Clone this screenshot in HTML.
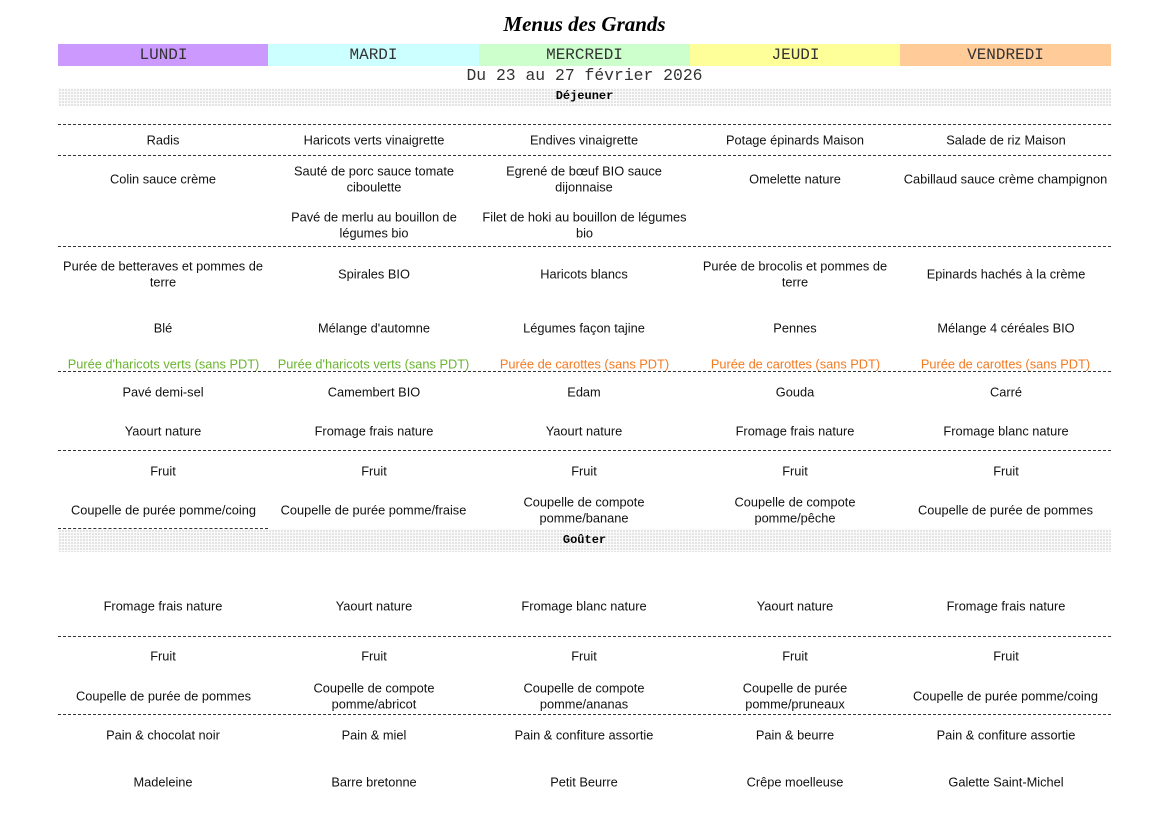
<!DOCTYPE html>
<html><head><meta charset="utf-8"><style>
body{margin:0;width:1169px;height:827px;background:#fff;position:relative;font-family:"Liberation Sans",sans-serif;overflow:hidden}
.c{position:absolute;width:200px;transform:translateY(-50%);text-align:center;font-size:12.8px;line-height:15.5px;color:#111;margin-top:1px}
.c1{left:63px}.c2{left:274px}.c3{left:484px}.c4{left:695px}.c5{left:906px}
.g{color:#6ab42e}.o{color:#f47a20}
.hl{position:absolute;left:58px;width:1053px;border-top:1px dashed #333;height:0}
.band{position:absolute;left:58px;width:1053px;background-color:#e4e4e4;background-image:linear-gradient(#fafafa 1px,transparent 1px),linear-gradient(90deg,#fafafa 1px,transparent 1px);background-size:3px 3px;font-family:"Liberation Mono",monospace;font-weight:bold;font-size:12px;text-align:center}
.day{position:absolute;top:44px;height:22px;line-height:22px;width:211px;text-align:center;font-family:"Liberation Mono",monospace;font-size:16px;color:#333}
</style></head><body>
<div style="position:absolute;top:12px;left:0;width:1169px;text-align:center;font-family:'Liberation Serif',serif;font-style:italic;font-weight:bold;font-size:21px">Menus des Grands</div>
<div class="day" style="left:58px;background:#cc99ff">LUNDI</div>
<div class="day" style="left:268px;background:#ccffff">MARDI</div>
<div class="day" style="left:479px;background:#ccffcc">MERCREDI</div>
<div class="day" style="left:690px;background:#ffff99">JEUDI</div>
<div class="day" style="left:900px;background:#ffcc99;width:211px">VENDREDI</div>
<div style="position:absolute;top:66px;left:0;width:1169px;text-align:center;font-family:'Liberation Mono',monospace;font-size:16.4px;color:#333">Du 23 au 27 février 2026</div>
<div class="band" style="top:88px;height:18px;line-height:16px">Déjeuner</div>
<div class="band" style="top:529px;height:23px;line-height:22px">Goûter</div>

<div class="hl" style="top:124px"></div>
<div class="hl" style="top:155px"></div>
<div class="hl" style="top:246px"></div>
<div class="hl" style="top:371px"></div>
<div class="hl" style="top:450px"></div>
<div class="hl" style="top:528px;width:210px"></div>
<div class="hl" style="top:636px"></div>
<div class="hl" style="top:714px"></div>

<div class="c c1" style="top:139px">Radis</div>
<div class="c c2" style="top:139px">Haricots verts vinaigrette</div>
<div class="c c3" style="top:139px">Endives vinaigrette</div>
<div class="c c4" style="top:139px">Potage épinards Maison</div>
<div class="c c5" style="top:139px">Salade de riz Maison</div>

<div class="c c1" style="top:178px">Colin sauce crème</div>
<div class="c c2" style="top:178px">Sauté de porc sauce tomate ciboulette</div>
<div class="c c3" style="top:178px">Egrené de bœuf BIO sauce dijonnaise</div>
<div class="c c4" style="top:178px">Omelette nature</div>
<div class="c c5" style="top:178px;left:900px;width:211px">Cabillaud sauce crème champignon</div>

<div class="c c2" style="top:224px">Pavé de merlu au bouillon de légumes bio</div>
<div class="c c3" style="top:224px;left:479px;width:211px">Filet de hoki au bouillon de légumes bio</div>

<div class="c c1" style="top:273px">Purée de betteraves et pommes de terre</div>
<div class="c c2" style="top:273px">Spirales BIO</div>
<div class="c c3" style="top:273px">Haricots blancs</div>
<div class="c c4" style="top:273px">Purée de brocolis et pommes de terre</div>
<div class="c c5" style="top:273px">Epinards hachés à la crème</div>

<div class="c c1" style="top:327px">Blé</div>
<div class="c c2" style="top:327px">Mélange d'automne</div>
<div class="c c3" style="top:327px">Légumes façon tajine</div>
<div class="c c4" style="top:327px">Pennes</div>
<div class="c c5" style="top:327px">Mélange 4 céréales BIO</div>

<div class="c c1 g" style="top:363px;left:58px;width:211px">Purée d'haricots verts (sans PDT)</div>
<div class="c c2 g" style="top:363px;left:268px;width:211px">Purée d'haricots verts (sans PDT)</div>
<div class="c c3 o" style="top:363px;left:479px;width:211px">Purée de carottes (sans PDT)</div>
<div class="c c4 o" style="top:363px;left:690px;width:211px">Purée de carottes (sans PDT)</div>
<div class="c c5 o" style="top:363px;left:900px;width:211px">Purée de carottes (sans PDT)</div>

<div class="c c1" style="top:391px">Pavé demi-sel</div>
<div class="c c2" style="top:391px">Camembert BIO</div>
<div class="c c3" style="top:391px">Edam</div>
<div class="c c4" style="top:391px">Gouda</div>
<div class="c c5" style="top:391px">Carré</div>

<div class="c c1" style="top:430px">Yaourt nature</div>
<div class="c c2" style="top:430px">Fromage frais nature</div>
<div class="c c3" style="top:430px">Yaourt nature</div>
<div class="c c4" style="top:430px">Fromage frais nature</div>
<div class="c c5" style="top:430px">Fromage blanc nature</div>

<div class="c c1" style="top:470px">Fruit</div>
<div class="c c2" style="top:470px">Fruit</div>
<div class="c c3" style="top:470px">Fruit</div>
<div class="c c4" style="top:470px">Fruit</div>
<div class="c c5" style="top:470px">Fruit</div>

<div class="c c1" style="top:509px;left:58px;width:211px">Coupelle de purée pomme/coing</div>
<div class="c c2" style="top:509px;left:268px;width:211px">Coupelle de purée pomme/fraise</div>
<div class="c c3" style="top:509px;left:514px;width:140px">Coupelle de compote pomme/banane</div>
<div class="c c4" style="top:509px;left:725px;width:140px">Coupelle de compote pomme/pêche</div>
<div class="c c5" style="top:509px;left:900px;width:211px">Coupelle de purée de pommes</div>

<div class="c c1" style="top:605px">Fromage frais nature</div>
<div class="c c2" style="top:605px">Yaourt nature</div>
<div class="c c3" style="top:605px">Fromage blanc nature</div>
<div class="c c4" style="top:605px">Yaourt nature</div>
<div class="c c5" style="top:605px">Fromage frais nature</div>

<div class="c c1" style="top:655px">Fruit</div>
<div class="c c2" style="top:655px">Fruit</div>
<div class="c c3" style="top:655px">Fruit</div>
<div class="c c4" style="top:655px">Fruit</div>
<div class="c c5" style="top:655px">Fruit</div>

<div class="c c1" style="top:695px;left:58px;width:211px">Coupelle de purée de pommes</div>
<div class="c c2" style="top:695px;left:304px;width:140px">Coupelle de compote pomme/abricot</div>
<div class="c c3" style="top:695px;left:514px;width:140px">Coupelle de compote pomme/ananas</div>
<div class="c c4" style="top:695px;left:730px;width:130px">Coupelle de purée pomme/pruneaux</div>
<div class="c c5" style="top:695px;left:900px;width:211px">Coupelle de purée pomme/coing</div>

<div class="c c1" style="top:734px">Pain &amp; chocolat noir</div>
<div class="c c2" style="top:734px">Pain &amp; miel</div>
<div class="c c3" style="top:734px">Pain &amp; confiture assortie</div>
<div class="c c4" style="top:734px">Pain &amp; beurre</div>
<div class="c c5" style="top:734px">Pain &amp; confiture assortie</div>

<div class="c c1" style="top:781px">Madeleine</div>
<div class="c c2" style="top:781px">Barre bretonne</div>
<div class="c c3" style="top:781px">Petit Beurre</div>
<div class="c c4" style="top:781px">Crêpe moelleuse</div>
<div class="c c5" style="top:781px">Galette Saint-Michel</div>
</body></html>
